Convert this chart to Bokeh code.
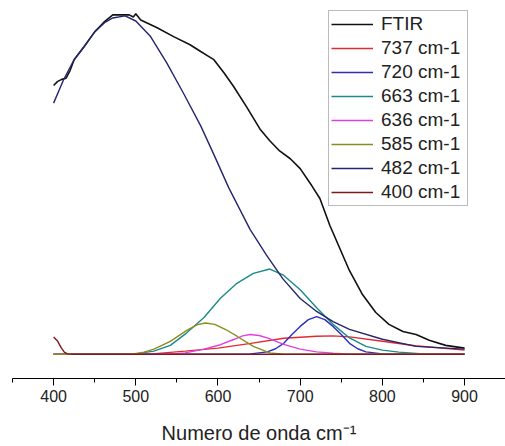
from bokeh.plotting import figure
from bokeh.models import Range1d, FixedTicker, Legend, LegendItem
from bokeh.embed import file_html
from bokeh.resources import INLINE

# ---- data (wavenumber cm-1, normalized absorbance) ----
ftir_x = [400, 405, 410, 415, 420, 425, 437, 450, 462, 472, 482, 492, 497, 500, 506,
          526, 546, 566, 579, 589, 595, 607, 619, 635, 651, 663, 675, 688, 700, 714,
          724, 736, 748, 760, 776, 792, 808, 825, 841, 857, 877, 900]
ftir_y = [0.792, 0.804, 0.810, 0.813, 0.836, 0.868, 0.906, 0.950, 0.980, 1.000, 1.000, 1.000, 0.994, 1.003, 0.985,
          0.962, 0.936, 0.912, 0.892, 0.877, 0.868, 0.830, 0.789, 0.728, 0.664, 0.629, 0.599, 0.576, 0.547, 0.497,
          0.459, 0.380, 0.313, 0.246, 0.175, 0.123, 0.088, 0.067, 0.058, 0.041, 0.026, 0.018]

p737_x = [400, 510, 520, 560, 600, 640, 680, 720, 740, 760, 800, 840, 900]
p737_y = [0, 0, 0.001, 0.009, 0.018, 0.032, 0.047, 0.053, 0.054, 0.051, 0.038, 0.025, 0.012]

p720_x = [400, 630, 640, 660, 670, 680, 690, 700, 710, 720, 730, 740, 750, 760, 770, 780, 800, 900]
p720_y = [0, 0, 0.001, 0.007, 0.016, 0.032, 0.058, 0.082, 0.102, 0.111, 0.102, 0.082, 0.058, 0.032, 0.016, 0.007, 0.001, 0]

p663_x = [400, 500, 522, 542, 562, 583, 603, 623, 643, 663, 679, 700, 720, 740, 760, 780, 800, 820, 850, 900]
p663_y = [0, 0.001, 0.009, 0.026, 0.063, 0.108, 0.165, 0.209, 0.238, 0.251, 0.234, 0.190, 0.137, 0.088, 0.048,
          0.023, 0.012, 0.006, 0.001, 0]

p636_x = [400, 540, 560, 583, 603, 620, 630, 639, 650, 660, 680, 700, 720, 740, 760, 900]
p636_y = [0, 0, 0.004, 0.015, 0.028, 0.044, 0.054, 0.058, 0.055, 0.048, 0.029, 0.015, 0.007, 0.003, 0, 0]

p585_x = [400, 495, 510, 522, 542, 562, 575, 585, 596, 610, 623, 643, 663, 680, 900]
p585_y = [0, 0, 0.006, 0.015, 0.038, 0.070, 0.087, 0.092, 0.088, 0.072, 0.053, 0.023, 0.004, 0, 0]

p482_x = [400, 412, 425, 437, 450, 462, 472, 487, 500, 518, 538, 558, 579, 596, 613, 639, 659, 679, 700,
          720, 740, 760, 800, 841, 900]
p482_y = [0.740, 0.808, 0.868, 0.906, 0.950, 0.977, 0.991, 0.997, 0.982, 0.936, 0.857, 0.769, 0.673, 0.583,
          0.491, 0.368, 0.292, 0.222, 0.164, 0.126, 0.096, 0.073, 0.044, 0.023, 0.015]

p400_x = [400, 405, 409, 413, 417, 425, 900]
p400_y = [0.051, 0.038, 0.020, 0.006, 0.001, 0, 0]

labels = ["FTIR", "737 cm-1", "720 cm-1", "663 cm-1", "636 cm-1", "585 cm-1", "482 cm-1", "400 cm-1"]
colors = ["#111111", "#e22a30", "#2e2eb8", "#1a8a8a", "#e040e0", "#8c8c1e", "#25256e", "#7a1a1a"]
major_ticks = [400, 500, 600, 700, 800, 900]
minor_ticks = [350, 450, 550, 650, 750, 850, 950]

series = [(ftir_x, ftir_y), (p737_x, p737_y), (p720_x, p720_y), (p663_x, p663_y),
          (p636_x, p636_y), (p585_x, p585_y), (p482_x, p482_y), (p400_x, p400_y)]

p = figure(width=505, height=446, output_backend="svg", toolbar_location=None,
           x_range=Range1d(350, 949.8), y_range=Range1d(-0.0716, 1.0424),
           min_border_left=12, min_border_right=0, min_border_top=0, min_border_bottom=65,
           y_axis_location=None)
p.outline_line_color = None
p.grid.visible = False
p.background_fill_color = "white"

items = []
for i, ((xs, ys), lab, col) in enumerate(zip(series, labels, colors)):
    r = p.line(xs, ys, line_color=col, line_width=1.6 if i == 0 else 1.4)
    items.append(LegendItem(label=lab, renderers=[r]))

ax = p.xaxis[0]
ax.ticker = FixedTicker(ticks=major_ticks, minor_ticks=minor_ticks)
ax.major_tick_out = 7
ax.major_tick_in = 0
ax.minor_tick_out = 4
ax.minor_tick_in = 0
ax.axis_line_color = "black"
ax.major_tick_line_color = "black"
ax.minor_tick_line_color = "black"
ax.major_label_text_font = "Liberation Sans"
ax.major_label_text_font_size = "16px"
ax.major_label_text_color = "#222222"
ax.major_label_standoff = 4
ax.axis_label = "Numero de onda cm\u207b\u00b9"
ax.axis_label_text_font = "Liberation Sans"
ax.axis_label_text_font_size = "20px"
ax.axis_label_text_font_style = "normal"
ax.axis_label_text_color = "#222222"
ax.axis_label_standoff = 17

legend = Legend(items=items, location=(316, 172))
legend.label_text_font = "Liberation Sans"
legend.label_text_font_size = "19px"
legend.label_text_color = "#222222"
legend.glyph_width = 42
legend.glyph_height = 20
legend.label_height = 20
legend.label_width = 84
legend.spacing = 2
legend.padding = 2
legend.margin = 0
legend.label_standoff = 8
legend.border_line_color = "#777777"
legend.border_line_width = 1
legend.background_fill_alpha = 1.0
p.add_layout(legend, "center")

open("out.html", "w").write(file_html(p, INLINE))
